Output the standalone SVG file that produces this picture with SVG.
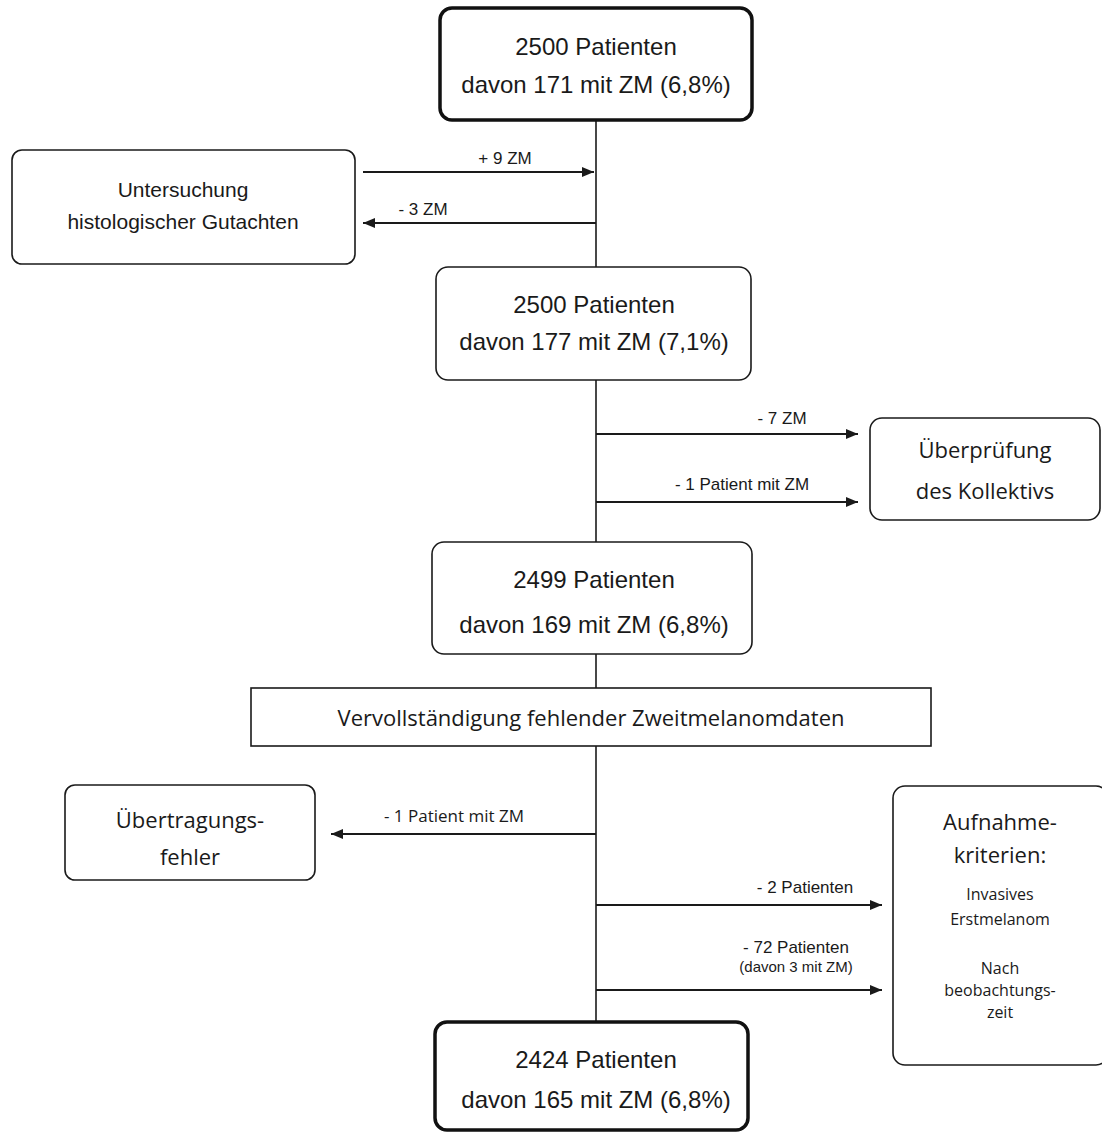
<svg xmlns="http://www.w3.org/2000/svg" width="1102" height="1135" viewBox="0 0 1102 1135">
<style>
.box{fill:#fff;stroke:#1a1a1a;stroke-width:1.6}
.thick{fill:#fff;stroke:#111;stroke-width:3.5}
.t{font-family:"Liberation Sans",Arial,sans-serif;font-size:24px;fill:#1a1a1a;text-anchor:middle}
.c{font-family:"Open Sans","Noto Sans",sans-serif;font-size:22px;fill:#1a1a1a;text-anchor:middle}
.cs{font-family:"Open Sans","Noto Sans",sans-serif;font-size:16px;fill:#1a1a1a;text-anchor:middle}
.u{font-family:"Liberation Sans",Arial,sans-serif;font-size:21px;fill:#1a1a1a;text-anchor:middle}
.lbl{font-family:"Liberation Sans",Arial,sans-serif;font-size:17px;fill:#1a1a1a;text-anchor:middle}
.lbs{font-family:"Liberation Sans",Arial,sans-serif;font-size:15px;fill:#1a1a1a;text-anchor:middle}
.lc{font-family:"Open Sans","Noto Sans",sans-serif;font-size:17px;fill:#1a1a1a;text-anchor:middle}
.ln{stroke:#1a1a1a;stroke-width:1.6;fill:none}
.ar{stroke:#1a1a1a;stroke-width:2;fill:none;marker-end:url(#ah)}
</style>
<defs>
<marker id="ah" viewBox="0 0 12 10" refX="12" refY="5" markerWidth="12" markerHeight="10" markerUnits="userSpaceOnUse" orient="auto">
<path d="M0,0 L12,5 L0,10 Z" fill="#1a1a1a"/>
</marker>
</defs>
<rect width="1102" height="1135" fill="#fff"/>
<g id="connectors">
<line class="ln" x1="596" y1="120" x2="596" y2="1022"/>
<line class="ar" x1="363" y1="172" x2="594" y2="172"/>
<line class="ar" x1="596" y1="223" x2="363" y2="223"/>
<line class="ar" x1="596" y1="434" x2="858" y2="434"/>
<line class="ar" x1="596" y1="502" x2="858" y2="502"/>
<line class="ar" x1="596" y1="834" x2="331" y2="834"/>
<line class="ar" x1="596" y1="905" x2="882" y2="905"/>
<line class="ar" x1="596" y1="990" x2="882" y2="990"/>
<text class="lbl" x="505" y="164">+ 9 ZM</text>
<text class="lbl" x="423" y="215">- 3 ZM</text>
<text class="lbl" x="782" y="424">- 7 ZM</text>
<text class="lbl" x="742" y="490">- 1 Patient mit ZM</text>
<text class="lc" x="454" y="822">- 1 Patient mit ZM</text>
<text class="lbl" x="805" y="893">- 2 Patienten</text>
<text class="lbl" x="796" y="953">- 72 Patienten</text>
<text class="lbs" x="796" y="972">(davon 3 mit ZM)</text>
</g>
<g id="n1">
<rect class="thick" x="440" y="8" width="312" height="112" rx="12"/>
<text class="t" x="596" y="55">2500 Patienten</text>
<text class="t" x="596" y="93">davon 171 mit ZM (6,8%)</text>
</g>
<g id="n2">
<rect class="box" x="12" y="150" width="343" height="114" rx="10"/>
<text class="u" x="183" y="197">Untersuchung</text>
<text class="u" x="183" y="229">histologischer Gutachten</text>
</g>
<g id="n3">
<rect class="box" x="436" y="267" width="315" height="113" rx="12"/>
<text class="t" x="594" y="313">2500 Patienten</text>
<text class="t" x="594" y="350">davon 177 mit ZM (7,1%)</text>
</g>
<g id="n4">
<rect class="box" x="870" y="418" width="230" height="102" rx="12"/>
<text class="c" x="985" y="458">Überprüfung</text>
<text class="c" x="985" y="499">des Kollektivs</text>
</g>
<g id="n5">
<rect class="box" x="432" y="542" width="320" height="112" rx="12"/>
<text class="t" x="594" y="588">2499 Patienten</text>
<text class="t" x="594" y="633">davon 169 mit ZM (6,8%)</text>
</g>
<g id="n6">
<rect class="box" x="251" y="688" width="680" height="58"/>
<text class="c" x="591" y="726">Vervollständigung fehlender Zweitmelanomdaten</text>
</g>
<g id="n7">
<rect class="box" x="65" y="785" width="250" height="95" rx="10"/>
<text class="c" x="190" y="828">Übertragungs-</text>
<text class="c" x="190" y="865">fehler</text>
</g>
<g id="n8">
<rect class="box" x="893" y="786" width="215" height="279" rx="12"/>
<text class="c" x="1000" y="830">Aufnahme-</text>
<text class="c" x="1000" y="863">kriterien:</text>
<text class="cs" x="1000" y="900">Invasives</text>
<text class="cs" x="1000" y="925">Erstmelanom</text>
<text class="cs" x="1000" y="974">Nach</text>
<text class="cs" x="1000" y="996">beobachtungs-</text>
<text class="cs" x="1000" y="1018">zeit</text>
</g>
<g id="n9">
<rect class="thick" x="435" y="1022" width="313" height="108" rx="12"/>
<text class="t" x="596" y="1068">2424 Patienten</text>
<text class="t" x="596" y="1108">davon 165 mit ZM (6,8%)</text>
</g>
</svg>
